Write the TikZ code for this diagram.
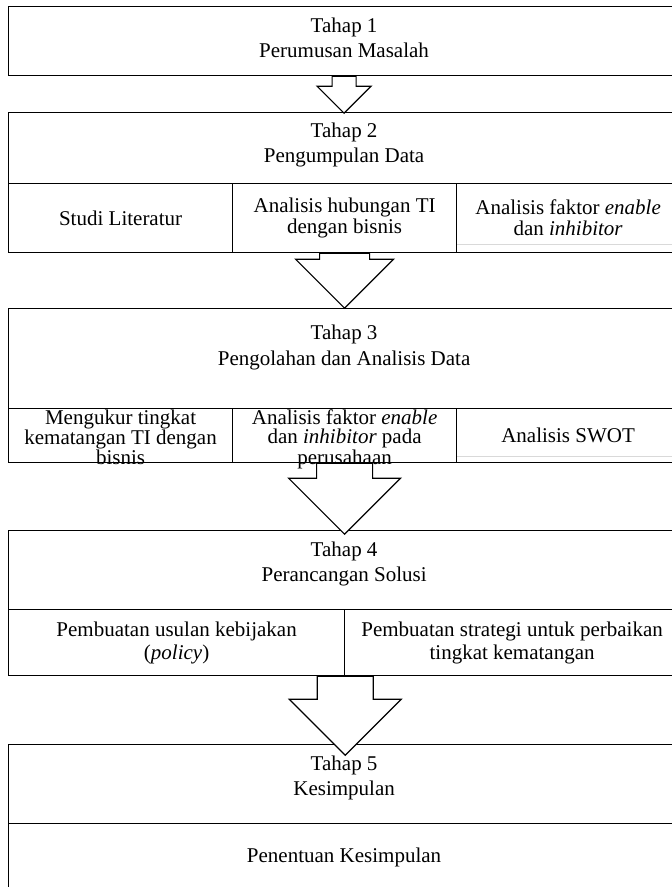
\documentclass[tikz,border=0pt]{standalone}
\usepackage{fontspec}
\setmainfont{Liberation Serif}
\usetikzlibrary{positioning,calc}
\newcommand{\blockarrow}[4]{%
  \draw[blk] ($#1+(-#2,0)$) -- ++(0,#4) -- ++({#2-#3},0) -- ++(#3,#3)
    -- ++(#3,-#3) -- ++({#2-#3},0) -- ++(0,-#4) -- cycle;}

\begin{document}
\begin{tikzpicture}[x=1pt, y=-1pt,
  stage/.style={draw, line width=1.2pt, inner sep=0pt, anchor=north west, minimum width=671pt, minimum height=#1},
  cell/.style={draw, line width=1.2pt, inner sep=0pt, anchor=north west, minimum width=#1},
  ttl/.style={anchor=north, align=center, inner sep=0pt, font=\fontsize{21}{25}\selectfont},
  celltxt/.style={align=center, inner sep=0pt, font=\fontsize{21}{21}\selectfont},
  blk/.style={draw, line width=1.2pt, fill=white, line join=miter},
  faint/.style={draw, gray!30, line width=0.8pt},
]
  \useasboundingbox (0,0) rectangle (672,887);
  \clip (0,0) rectangle (672,887);

  % Tahap 1
  \node[stage=69pt] (s1) at (8,6) {};
  \node[ttl] (t1) at ($(s1.north)+(0,12)$) {Tahap 1\\Perumusan Masalah};

  % Tahap 2
  \node[stage=71pt] (s2) at (8,112) {};
  \node[ttl] (t2) at ($(s2.north)+(0,11)$) {Tahap 2\\Pengumpulan Data};
  \node[cell=224pt, minimum height=69pt] (b1) at (8,183) {};
  \node[cell=224pt, minimum height=69pt] (b2) at (232,183) {};
  \node[cell=223pt, minimum height=69pt] (b3) at (456,183) {};
  \node[celltxt] at (b1) {Studi Literatur};
  \node[celltxt] at (b2) {Analisis hubungan TI\\dengan bisnis};
  \node[celltxt] at (b3) {Analisis faktor \textit{enable}\\dan \textit{inhibitor}};
  \path[faint] ($(b3.south west)+(1,-9)$) -- ($(b3.south east)+(0,-9)$);

  % Tahap 3
  \node[stage=100pt] (s3) at (8,308) {};
  \node[ttl, font=\fontsize{21}{26}\selectfont] (t3) at ($(s3.north)+(0,17)$) {Tahap 3\\Pengolahan dan Analisis Data};
  \node[cell=224pt, minimum height=54pt] (c1) at (8,408) {};
  \node[cell=224pt, minimum height=54pt] (c2) at (232,408) {};
  \node[cell=223pt, minimum height=54pt] (c3) at (456,408) {};
  \node[celltxt, anchor=north, font=\fontsize{21}{19}\selectfont] at ($(c1.north)+(0,2)$) {Mengukur tingkat\\kematangan TI dengan\\bisnis};
  \node[celltxt, anchor=north, font=\fontsize{21}{19}\selectfont] at ($(c2.north)+(0,2)$) {Analisis faktor \textit{enable}\\dan \textit{inhibitor} pada\\perusahaan};
  \node[celltxt] at (c3) {Analisis SWOT};
  \path[faint] ($(c3.south west)+(1,-7)$) -- ($(c3.south east)+(0,-7)$);

  % Tahap 4
  \node[stage=79pt] (s4) at (8,530) {};
  \node[ttl] (t4) at ($(s4.north)+(0,12)$) {Tahap 4\\Perancangan Solusi};
  \node[cell=336pt, minimum height=66pt] (d1) at (8,609) {};
  \node[cell=335pt, minimum height=66pt] (d2) at (344,609) {};
  \node[celltxt, font=\fontsize{21}{23}\selectfont] at (d1) {Pembuatan usulan kebijakan\\(\textit{policy})};
  \node[celltxt, font=\fontsize{21}{23}\selectfont] at (d2) {Pembuatan strategi untuk perbaikan\\tingkat kematangan};

  % Tahap 5
  \node[stage=79pt] (s5) at (8,744) {};
  \node[ttl] (t5) at ($(s5.north)+(0,12)$) {Tahap 5\\Kesimpulan};
  \node[cell=671pt, minimum height=68pt] (e1) at (8,823) {};
  \node[celltxt] at (e1) {Penentuan Kesimpulan};

  % Arrows
  \blockarrow{(s1.south)}{12}{27}{10}
  \blockarrow{(b2.south)}{25}{49}{6}
  \blockarrow{(c2.south)}{28}{56}{15}
  \blockarrow{(d1.south east)}{28}{56}{23}
\end{tikzpicture}
\end{document}
